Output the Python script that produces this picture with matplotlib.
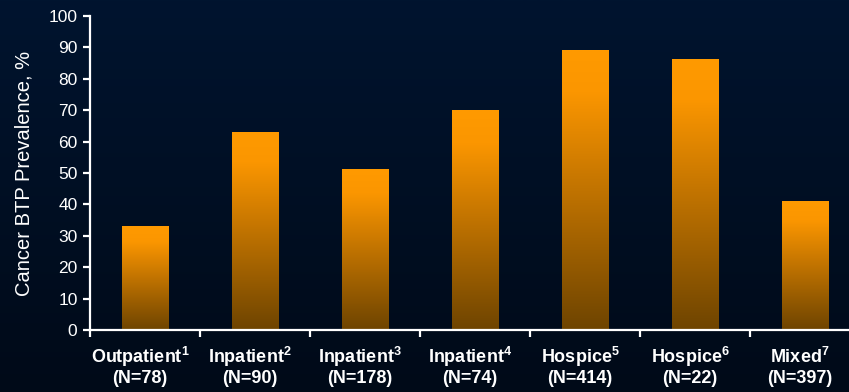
import numpy as np
import matplotlib
matplotlib.use('Agg')
import matplotlib.pyplot as plt
from matplotlib.colors import LinearSegmentedColormap

# data
categories = ['Outpatient', 'Inpatient', 'Inpatient', 'Inpatient',
              'Hospice', 'Hospice', 'Mixed']
refs = ['1', '2', '3', '4', '5', '6', '7']
sample_sizes = ['(N=78)', '(N=90)', '(N=178)', '(N=74)',
                '(N=414)', '(N=22)', '(N=397)']
prevalence = [33, 63, 51, 70, 89, 86, 41]

y_ticks = list(range(0, 101, 10))

narrow = ['Liberation Sans Narrow', 'Liberation Sans', 'DejaVu Sans']
bold = ['Liberation Sans', 'DejaVu Sans']

plt.rcParams['mathtext.fontset'] = 'custom'
plt.rcParams['mathtext.bf'] = 'Liberation Sans:bold'
plt.rcParams['mathtext.rm'] = 'Liberation Sans:bold'

fig = plt.figure(figsize=(8.49, 3.92), dpi=100)

# background gradient
bg = fig.add_axes([0, 0, 1, 1], zorder=-10)
bg_cmap = LinearSegmentedColormap.from_list('bg', ['#00142f', '#000a18'])
bg.imshow(np.linspace(0, 1, 256).reshape(-1, 1), aspect='auto', cmap=bg_cmap,
          extent=[0, 1, 0, 1])
bg.set_axis_off()

# axes from x=90px to x=860px, y 16px..330px
ax = fig.add_axes([90 / 849, 62 / 392, 770 / 849, 314 / 392])
ax.patch.set_alpha(0)

bar_cmap = LinearSegmentedColormap.from_list(
    'bar', [(0, '#6e4400'), (0.55, '#c97800'), (0.85, '#fb9600'), (1, '#ff9a00')])
grad = np.linspace(0, 1, 256).reshape(-1, 1)
x = np.arange(len(categories))
width = 0.42
bars = ax.bar(x, prevalence, width=width, color='none')
for b in bars:
    x0, y0 = b.get_x(), b.get_y()
    ax.imshow(grad, origin='lower', aspect='auto', cmap=bar_cmap,
              extent=[x0, x0 + b.get_width(), y0, y0 + b.get_height()], zorder=2)

ax.set_xlim(-0.5, len(categories) - 0.5)
ax.set_ylim(0, 100)

for side in ['top', 'right']:
    ax.spines[side].set_visible(False)
for side in ['left', 'bottom']:
    ax.spines[side].set_color('white')
    ax.spines[side].set_linewidth(1.6)
    ax.spines[side].set_zorder(5)

ax.set_yticks(y_ticks)
ax.set_yticklabels([str(t) for t in y_ticks], family=narrow, fontsize=12.5, color='white')
ax.tick_params(axis='y', colors='white', length=5, width=1.6, pad=4)

ax.set_xticks(np.arange(len(categories) + 1) - 0.5)
ax.set_xticklabels([])
ax.tick_params(axis='x', colors='white', length=5, width=1.6)
for i, (c, r, n) in enumerate(zip(categories, refs, sample_sizes)):
    ax.text(i - 0.045, -10.4, c + r'$^{\mathbf{' + r + '}}$', ha='center', va='baseline',
            color='white', family=bold, fontweight='bold', fontsize=13)
    ax.text(i - 0.045, -17.0, n, ha='center', va='baseline',
            color='white', family=bold, fontweight='bold', fontsize=13)

ax.set_ylabel('Cancer BTP Prevalence, %', family=narrow, fontsize=14.5,
              color='white', labelpad=11)

fig.savefig('out.png', dpi=100)
